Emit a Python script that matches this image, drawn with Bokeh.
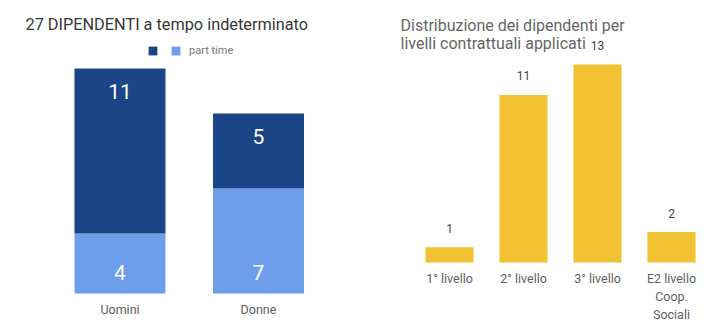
from bokeh.plotting import figure
from bokeh.layouts import row
from bokeh.models import ColumnDataSource, Label, Legend, LegendItem, Range1d
from bokeh.core.properties import value
from bokeh.embed import file_html
from bokeh.resources import INLINE

# ---- data ----
genders = ["Uomini", "Donne"]
full_time = [11, 5]
part_time = [4, 7]

levels = ["1° livello", "2° livello", "3° livello", "E2 livello\nCoop.\nSociali"]
level_counts = [1, 11, 13, 2]

title_left = "27 DIPENDENTI a tempo indeterminato"
title_right = ["Distribuzione dei dipendenti per", "livelli contrattuali applicati"]
legend_labels = [" ", "part time"]

FONT = "Roboto"
DARK = "#1c4587"
LIGHT = "#6d9eeb"
YELLOW = "#f1c232"


def base_figure(x_range, y_range):
    p = figure(width=363, height=331, x_range=x_range, y_range=y_range, title=None,
               output_backend="svg", toolbar_location=None,
               x_axis_location=None, y_axis_location=None, min_border=0)
    p.xgrid.grid_line_color = None
    p.ygrid.grid_line_color = None
    p.outline_line_color = None
    return p


# ---- left chart: stacked bars ----
totals = [a + b for a, b in zip(full_time, part_time)]
src1 = ColumnDataSource(dict(
    idx=list(range(len(genders))), g=genders, ft=full_time, pt=part_time, top=totals,
    ft_txt=[str(v) for v in full_time], pt_txt=[str(v) for v in part_time],
    zero=[0] * len(genders),
))

# scale: 138.5 px per category, 15 px per unit
p1 = base_figure(Range1d(-119.5 / 138.5, (363 - 119.5) / 138.5), Range1d(-38 / 15, 293 / 15))
rs = p1.vbar_stack(["pt", "ft"], x="idx", width=0.657, color=[LIGHT, DARK], source=src1, line_color=None)

p1.text(x="idx", y="top", text="ft_txt", source=src1, y_offset=23, text_color="white",
        text_font_size="21px", text_align="center", text_baseline="middle", text_font=value(FONT))
p1.text(x="idx", y="zero", text="pt_txt", source=src1, y_offset=-21, text_color="white",
        text_font_size="21px", text_align="center", text_baseline="middle", text_font=value(FONT))
p1.text(x="idx", y="zero", text="g", source=src1, y_offset=8, text_color="#606060",
        text_font_size="12.5px", text_align="center", text_baseline="top", text_font=value(FONT))

legend = Legend(items=[LegendItem(label=value(legend_labels[0]), renderers=[rs[1]]),
                       LegendItem(label=value(legend_labels[1]), renderers=[rs[0]])],
                location=(147, 274), orientation="horizontal", glyph_width=11, glyph_height=11,
                label_standoff=8, spacing=4, padding=0, margin=0, label_height=11, label_width=0,
                border_line_color=None, background_fill_alpha=0,
                label_text_font_size="11px", label_text_color="#777777", label_text_font=FONT)
p1.add_layout(legend)

p1.add_layout(Label(x=25, y=307, x_units="screen", y_units="screen", text=title_left,
                    text_font=FONT, text_font_size="16.3px", text_color="#363636",
                    text_baseline="middle", text_align="left"))

# ---- right chart: simple bars ----
src2 = ColumnDataSource(dict(idx=list(range(len(levels))), lv=levels, n=level_counts,
                             txt=[str(v) for v in level_counts], zero=[0] * len(levels)))
# scale: 74 px per category, 15.23 px per unit
p2 = base_figure(Range1d(-86 / 74, (363 - 86) / 74), Range1d(-69 / 15.23, 262 / 15.23))
p2.vbar(x="idx", top="n", width=0.65, source=src2, color=YELLOW, line_color=None)
p2.text(x="idx", y="n", text="txt", source=src2, y_offset=-19, text_color="#444444",
        text_font_size="12px", text_align="center", text_baseline="middle", text_font=value(FONT))
p2.text(x="idx", y="zero", text="lv", source=src2, y_offset=8, text_color="#606060",
        text_font_size="12.5px", text_align="center", text_baseline="top", text_font=value(FONT),
        text_line_height=1.2)

p2.add_layout(Label(x=37, y=306, x_units="screen", y_units="screen", text=title_right[0],
                    text_font=FONT, text_font_size="16px", text_color="#666666",
                    text_baseline="middle", text_align="left"))
p2.add_layout(Label(x=37, y=288, x_units="screen", y_units="screen", text=title_right[1],
                    text_font=FONT, text_font_size="16px", text_color="#666666",
                    text_baseline="middle", text_align="left"))

layout = row(p1, p2)
open("out.html", "w").write(file_html(layout, INLINE))
